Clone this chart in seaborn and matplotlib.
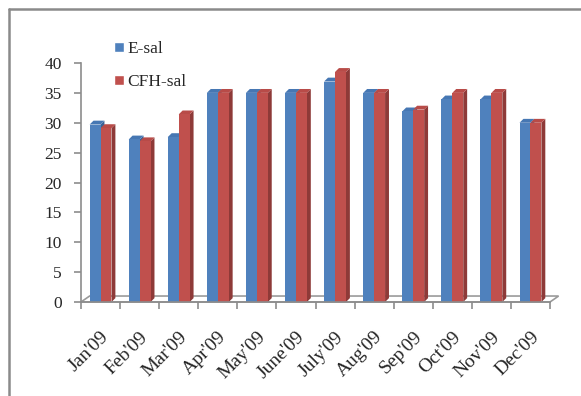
import matplotlib
matplotlib.use("Agg")
import matplotlib.pyplot as plt
import matplotlib.transforms as mtransforms
import seaborn as sns
import pandas as pd
import numpy as np
from matplotlib.patches import Polygon
from matplotlib.lines import Line2D
from matplotlib.ticker import FixedLocator

months = ["Jan'09", "Feb'09", "Mar'09", "Apr'09", "May'09", "June'09",
          "July'09", "Aug'09", "Sep'09", "Oct'09", "Nov'09", "Dec'09"]
e_sal = [29.7, 27.2, 27.6, 35, 35, 35, 36.9, 35, 31.9, 33.9, 33.9, 30]
cfh_sal = [29.1, 26.9, 31.4, 35, 35, 35, 38.5, 35, 32.2, 35, 35, 30]
series = ["E-sal", "CFH-sal"]
colors = ["#4F81BD", "#C0504D"]
side_colors = ["#3A6296", "#8E3A38"]
top_colors = ["#4677B3", "#B84B48"]
yticks = [0, 5, 10, 15, 20, 25, 30, 35, 40]

df = pd.DataFrame({
    "month": months * 2,
    "value": e_sal + cfh_sal,
    "series": [series[0]] * len(months) + [series[1]] * len(months),
})

sns.set_theme(style="white")
plt.rcParams["font.family"] = ["Liberation Serif", "DejaVu Serif"]

fig = plt.figure(figsize=(5.81, 3.96), dpi=100)
ax = fig.add_axes([81/581, 1-302/396, (550-81)/581, (302-63)/396])

sns.barplot(data=df, x="month", y="value", hue="series", palette=colors,
            width=0.56, saturation=1, ax=ax, legend=True, zorder=2)

dx = 0.1    # depth in category units
dy = 0.65   # depth in value units
for ci, cont in enumerate(ax.containers):
    for bar in cont:
        x0 = bar.get_x(); w = bar.get_width(); h = bar.get_height()
        side = Polygon([(x0+w, 0), (x0+w+dx, dy), (x0+w+dx, h+dy), (x0+w, h)],
                       closed=True, facecolor=side_colors[ci], edgecolor="none",
                       zorder=1.5 + 0.01*ci)
        top = Polygon([(x0, h), (x0+dx, h+dy), (x0+w+dx, h+dy), (x0+w, h)],
                      closed=True, facecolor=top_colors[ci], edgecolor="none",
                      zorder=1.5 + 0.01*ci)
        ax.add_patch(side); ax.add_patch(top)
        bar.set_edgecolor("none")

# floor
n = len(months)
floor = Polygon([(-0.5, 0), (n-0.5, 0), (n-0.5+0.22, 1.0), (-0.5+0.22, 1.0)],
                closed=True, facecolor="white", edgecolor="#9a9a9a", lw=1.2,
                zorder=0.5, clip_on=False)
ax.add_patch(floor)

ax.set_xlim(-0.5, n-0.5)
ax.set_ylim(0, 40)
ax.set_yticks(yticks)
ax.set_yticklabels([str(t) for t in yticks], fontsize=12.5)
ax.set_xlabel(""); ax.set_ylabel("")
ax.set_xticks(range(n))
ax.set_xticklabels(months, fontsize=14, rotation=45, ha="right",
                   rotation_mode="anchor")
offset = mtransforms.ScaledTranslation(0/100, 0, fig.dpi_scale_trans)
for lab in ax.get_xticklabels():
    lab.set_transform(lab.get_transform() + offset)
ax.xaxis.set_minor_locator(FixedLocator(np.arange(-0.5, n, 1.0)))
ax.tick_params(axis="x", which="major", length=0, pad=19)
ax.tick_params(axis="x", which="minor", length=5, color="#8c8c8c", width=1.2,
               direction="out", bottom=True)
ax.tick_params(axis="y", length=5, color="#8c8c8c", width=1.2,
               direction="out", left=True, pad=9)
for s in ["top", "right"]:
    ax.spines[s].set_visible(False)
for s in ["left", "bottom"]:
    ax.spines[s].set_color("#8c8c8c")
    ax.spines[s].set_linewidth(1.2)
ax.set_facecolor("none")

handles, labels = ax.get_legend_handles_labels()
ax.legend_.remove()
fig.legend(handles, labels, loc="upper left",
           bbox_to_anchor=(114/581, 1-41/396), frameon=False, fontsize=12.5,
           handlelength=0.55, handleheight=0.55, handletextpad=0.2,
           labelspacing=1.0, borderpad=0, borderaxespad=0)

# outer frame (top and left edges visible)
fig.add_artist(Line2D([9/581, 9/581], [0, 1-9/396], transform=fig.transFigure,
                      color="#8a8a8a", lw=1.8))
fig.add_artist(Line2D([9/581, 1], [1-9/396, 1-9/396], transform=fig.transFigure,
                      color="#8a8a8a", lw=1.8))

fig.savefig("out.png", dpi=100)
